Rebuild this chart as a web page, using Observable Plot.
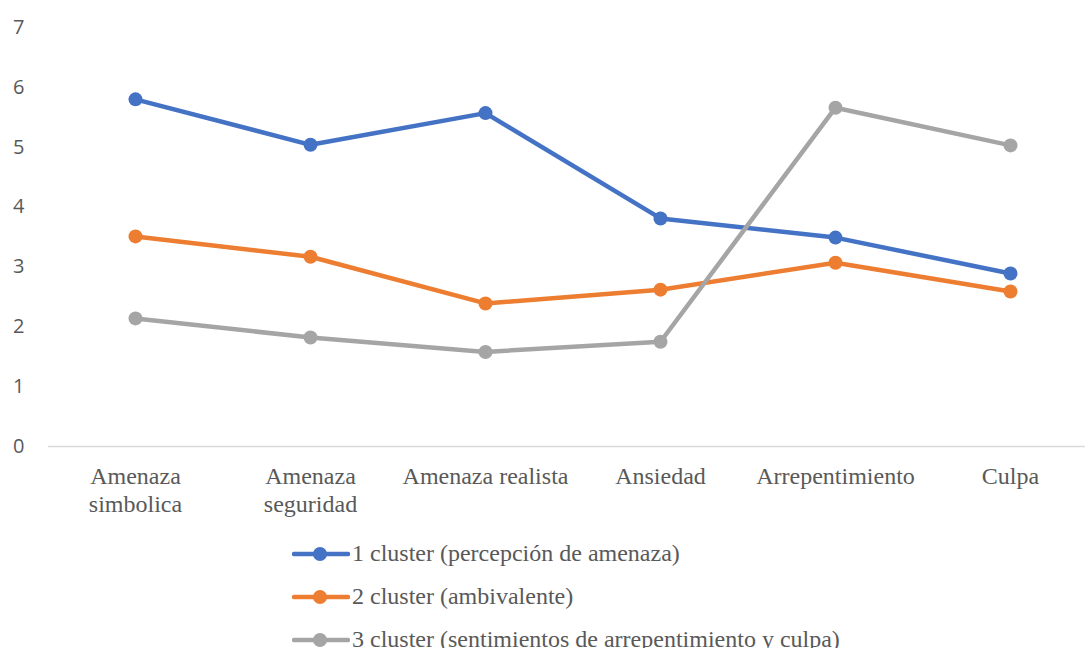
<!DOCTYPE html>
<html>
<head>
<meta charset="utf-8">
<script src="https://cdn.jsdelivr.net/npm/d3@7"></script>
<script src="https://cdn.jsdelivr.net/npm/@observablehq/plot@0.6"></script>
<style>
  html, body { margin: 0; padding: 0; background: #fff; overflow: hidden; }
  #chart svg { display: block; }
  #legend { margin-left: 292px; padding-top: 2px; font-family: "Liberation Serif", "Times New Roman", serif; font-size: 24px; color: #595959; }
  .row { height: 43px; display: flex; align-items: center; }
  .row svg { display: block; margin-right: 2px; }
</style>
</head>
<body>
<div id="chart"></div>
<div id="legend"></div>
<script>
const categories = ["Amenaza simbolica", "Amenaza seguridad", "Amenaza realista", "Ansiedad", "Arrepentimiento", "Culpa"];
const tickLabels = ["Amenaza\nsimbolica", "Amenaza\nseguridad", "Amenaza realista", "Ansiedad", "Arrepentimiento", "Culpa"];
const seriesNames = ["1 cluster (percepción de amenaza)", "2 cluster (ambivalente)", "3 cluster (sentimientos de arrepentimiento y culpa)"];
const seriesColors = ["#4472C4", "#ED7D31", "#A5A5A5"];
const cluster1 = [5.80, 5.04, 5.57, 3.81, 3.49, 2.89];
const cluster2 = [3.51, 3.17, 2.39, 2.62, 3.07, 2.59];
const cluster3 = [2.14, 1.82, 1.58, 1.75, 5.66, 5.03];
const yTicks = [0, 1, 2, 3, 4, 5, 6, 7];

const seriesValues = [cluster1, cluster2, cluster3];
const data = [];
seriesValues.forEach((vals, si) => {
  vals.forEach((v, ci) => data.push({series: seriesNames[si], cat: categories[ci], value: v}));
});

const chart = Plot.plot({
  width: 1085,
  height: 530,
  marginLeft: 48,
  marginRight: 0,
  marginTop: 27,
  marginBottom: 84,
  style: {background: "#fff", overflow: "visible"},
  x: {type: "point", domain: categories, range: [134, 1011], padding: 0},
  y: {domain: [0, 7]},
  color: {domain: seriesNames, range: seriesColors},
  marks: [
    Plot.ruleY([0], {stroke: "#d9d9d9", strokeWidth: 1.5}),
    Plot.axisY({ticks: yTicks, tickFormat: "d", tickSize: 0, tickPadding: 24, fontSize: 20, fontFamily: "Open Sans", fill: "#595959", label: null}),
    Plot.axisX({tickSize: 0, tickPadding: 18, fontSize: 24, fontFamily: "Liberation Serif", fill: "#595959", lineHeight: 1.15, label: null,
      tickFormat: (d) => tickLabels[categories.indexOf(d)]}),
    Plot.line(data, {x: "cat", y: "value", z: "series", stroke: "series", strokeWidth: 4.5, strokeLinejoin: "round"}),
    Plot.dot(data, {x: "cat", y: "value", fill: "series", r: 7, stroke: "none"})
  ]
});
document.getElementById("chart").appendChild(chart);

const legend = document.getElementById("legend");
seriesNames.forEach((name, i) => {
  const row = document.createElement("div");
  row.className = "row";
  row.innerHTML = `<svg width="58" height="16"><line x1="2" y1="8" x2="56" y2="8" stroke="${seriesColors[i]}" stroke-width="4.5" stroke-linecap="round"/><circle cx="28" cy="8" r="7" fill="${seriesColors[i]}"/></svg><span>${name}</span>`;
  legend.appendChild(row);
});
</script>
</body>
</html>
